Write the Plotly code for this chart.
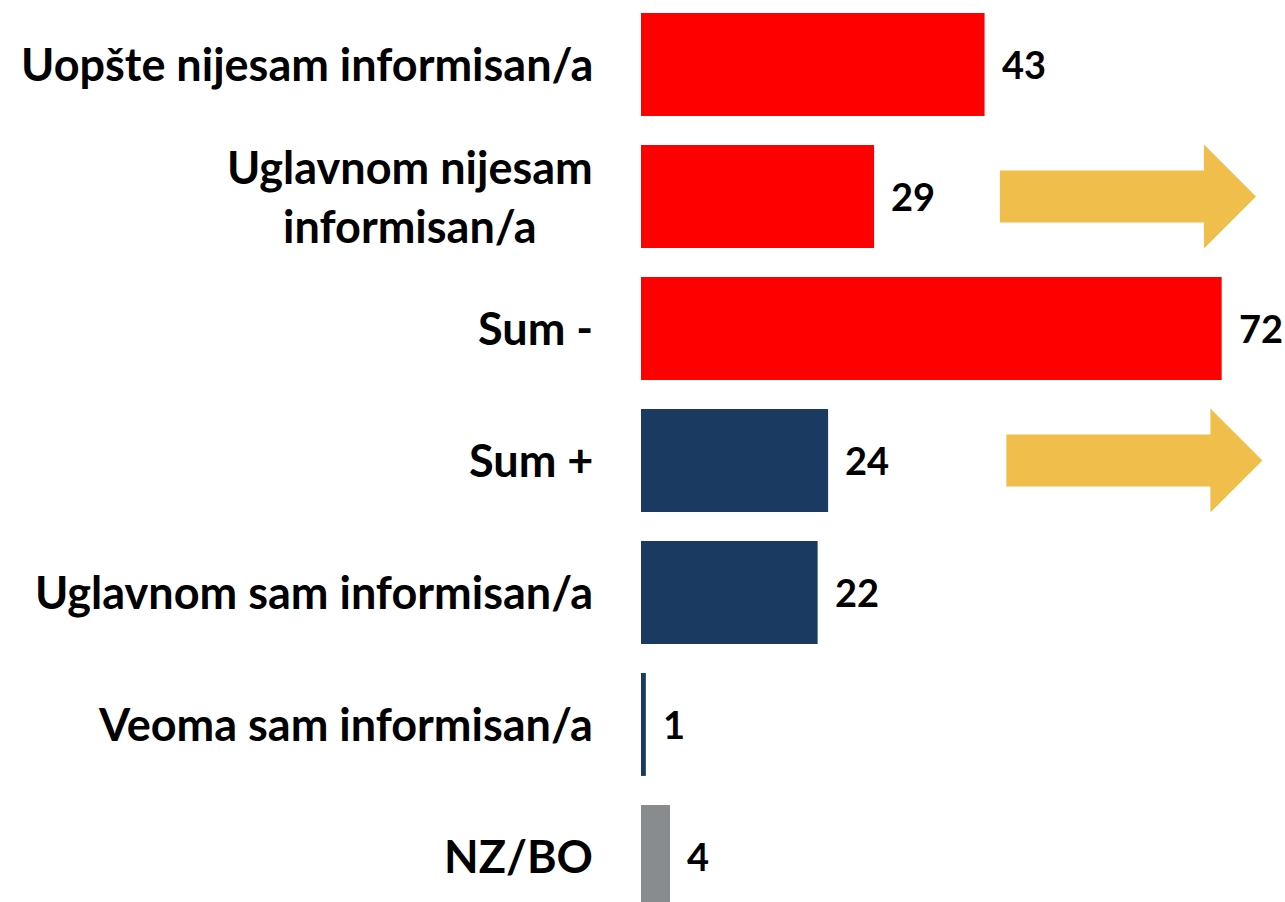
import plotly.graph_objects as go

categories = [
    "Uopšte nijesam informisan/a",
    "Uglavnom nijesam<br>informisan/a",
    "Sum -",
    "Sum +",
    "Uglavnom sam informisan/a",
    "Veoma sam informisan/a",
    "NZ/BO",
]
values = [42.6, 28.9, 72.0, 23.2, 21.9, 0.6, 3.6]
value_labels = ["43", "29", "72", "24", "22", "1", "4"]
bar_colors = ["#FF0000", "#FF0000", "#FF0000", "#1B3A62", "#1B3A62", "#1B3A62", "#898C8F"]
arrow_rows = [1, 3]  # category index where arrows sit
arrow_starts = [44.5, 45.3]

FONT = "Lato"
fig = go.Figure()
fig.add_trace(go.Bar(
    x=values, y=list(range(len(categories))), orientation="h",
    marker=dict(color=bar_colors, line=dict(width=0)),
    width=0.78, hoverinfo="skip",
))

annotations = []
for i, (c, v, lab) in enumerate(zip(categories, values, value_labels)):
    annotations.append(dict(
        x=0, xref="paper", y=i, yref="y", text=c, showarrow=False,
        xanchor="right", yanchor="middle", align="center", xshift=-46,
        font=dict(family=FONT, size=45, color="#000000", weight="bold"),
    ))
    annotations.append(dict(
        x=v, xref="x", y=i, yref="y", text=lab, showarrow=False,
        xanchor="left", yanchor="middle", xshift=15,
        font=dict(family=FONT, size=38, color="#000000", weight="bold"),
    ))

shapes = []
for r, x0 in zip(arrow_rows, arrow_starts):
    xh = x0 + 25.3
    xt = xh + 6.45
    bh = 0.197
    hh = 0.394
    path = (f"M {x0},{r-bh} L {xh},{r-bh} L {xh},{r-hh} L {xt},{r} "
            f"L {xh},{r+hh} L {xh},{r+bh} L {x0},{r+bh} Z")
    shapes.append(dict(type="path", path=path, xref="x", yref="y",
                       fillcolor="#F0BE4A", line=dict(width=0), layer="above"))

fig.update_layout(
    width=1285, height=902,
    margin=dict(l=641, r=0, t=0, b=0),
    plot_bgcolor="white", paper_bgcolor="white",
    showlegend=False,
    xaxis=dict(range=[0, 79.85], visible=False, fixedrange=True),
    yaxis=dict(range=[6.345, -0.4886], visible=False, fixedrange=True),
    annotations=annotations, shapes=shapes,
)
fig.write_html(
    "out.html",
    config={"displayModeBar": False, "staticPlot": True},
    post_script="document.body.style.margin='0';document.body.style.overflow='hidden';",
)
